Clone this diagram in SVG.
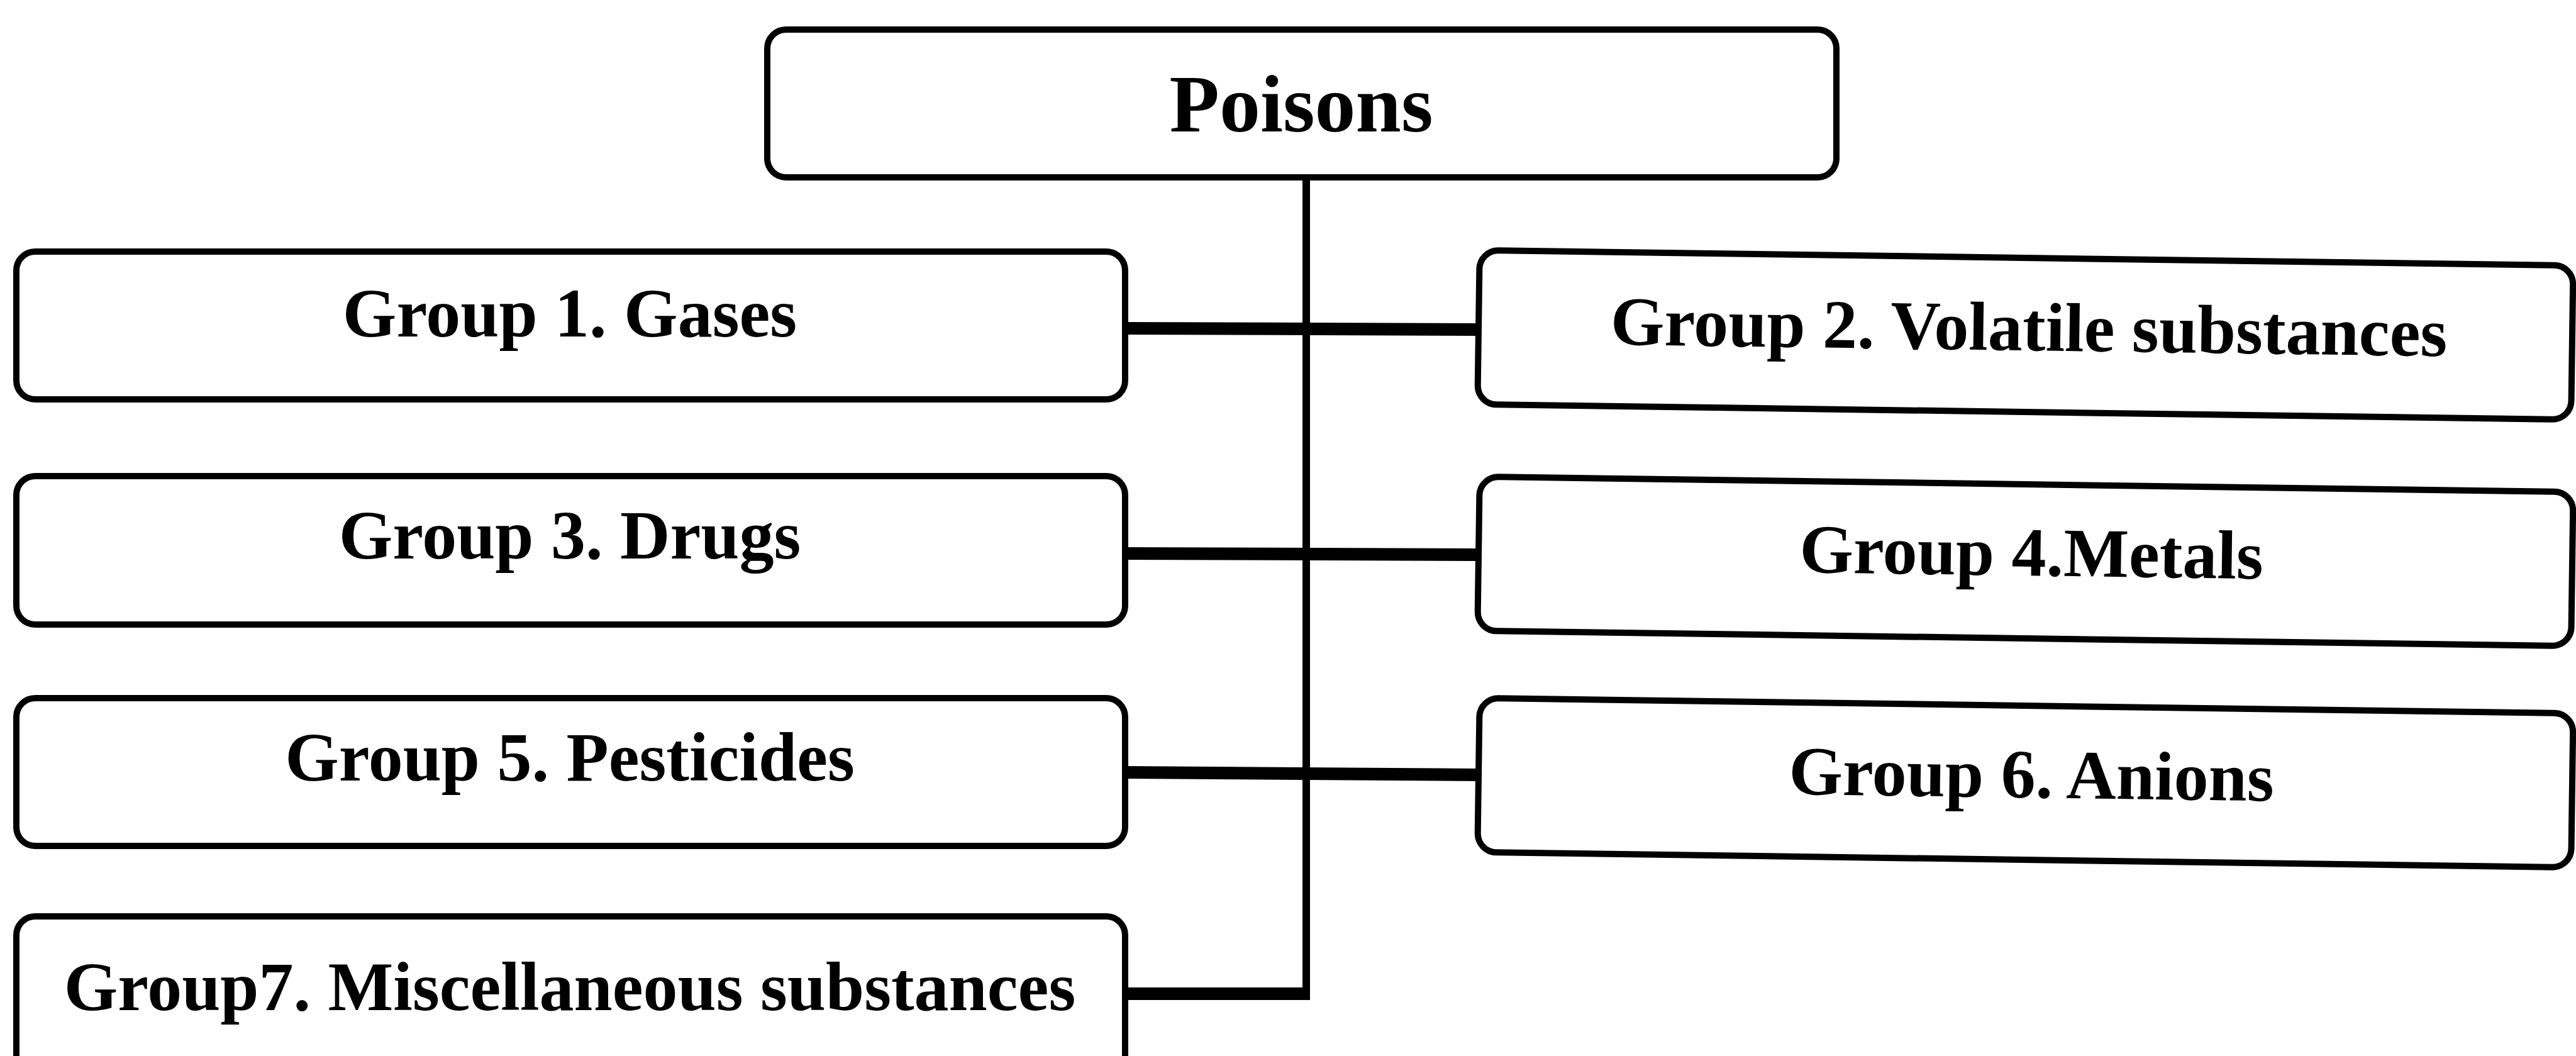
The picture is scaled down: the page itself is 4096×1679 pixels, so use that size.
<svg xmlns="http://www.w3.org/2000/svg" width="4096" height="1679" viewBox="0 0 4096 1679">
<style>
.box{fill:#fff;stroke:#000;stroke-width:10}
.lbl{font-family:"Liberation Serif","Times New Roman",serif;font-weight:bold;font-size:110px;fill:#000;text-anchor:middle}
.title{font-size:130px}
.h{stroke:#000;stroke-width:20;fill:none}
.v{stroke:#000;stroke-width:12;fill:none}
</style>
<rect width="4096" height="1679" fill="#fff"/>
<g id="connectors">
<line class="v" x1="2077" y1="282" x2="2077" y2="1590"/>
<line class="h" x1="1789" y1="522" x2="2351" y2="524"/>
<line class="h" x1="1789" y1="880" x2="2351" y2="882"/>
<line class="h" x1="1789" y1="1228" x2="2351" y2="1232"/>
<polyline class="h" points="1789,1580 2083,1580"/>
</g>
<g id="poisons">
<rect class="box" x="1220" y="47" width="1700" height="235" rx="30"/>
<text class="lbl title" x="2069" y="209">Poisons</text>
</g>
<g id="group1">
<rect class="box" x="26" y="400" width="1763" height="235" rx="30"/>
<text class="lbl" x="906" y="535">Group 1. Gases</text>
</g>
<g id="group3">
<rect class="box" x="26" y="757" width="1763" height="236" rx="30"/>
<text class="lbl" x="906" y="888">Group 3. Drugs</text>
</g>
<g id="group5">
<rect class="box" x="26" y="1110" width="1763" height="235" rx="30"/>
<text class="lbl" x="906" y="1241">Group 5. Pesticides</text>
</g>
<g id="group7">
<rect class="box" x="26" y="1457" width="1763" height="260" rx="30"/>
<text class="lbl" x="906" y="1606">Group7. Miscellaneous substances</text>
</g>
<g id="group2" transform="rotate(0.8 3220 530)">
<rect class="box" x="2351" y="410" width="1739" height="245" rx="30"/>
<text class="lbl" x="3226" y="557">Group 2. Volatile substances</text>
</g>
<g id="group4" transform="rotate(0.8 3220 890)">
<rect class="box" x="2351" y="770" width="1739" height="245" rx="30"/>
<text class="lbl" x="3230" y="915">Group 4.Metals</text>
</g>
<g id="group6" transform="rotate(0.8 3220 1240)">
<rect class="box" x="2351" y="1122" width="1739" height="245" rx="30"/>
<text class="lbl" x="3230" y="1268">Group 6. Anions</text>
</g>
</svg>
